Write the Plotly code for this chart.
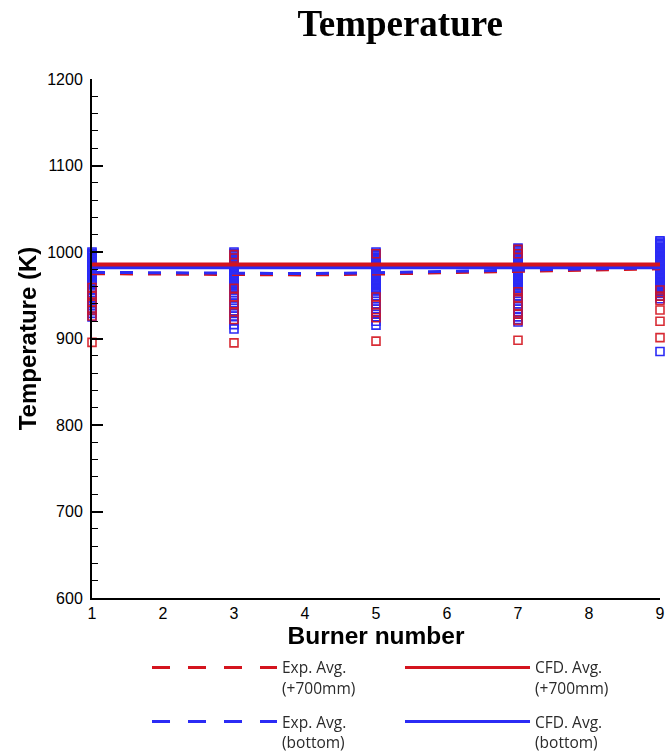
import plotly.graph_objects as go

# ---------------- data ----------------
burners = [1, 2, 3, 4, 5, 6, 7, 8, 9]
exp_avg_700 = [975.0, 974.5, 974.0, 973.5, 974.5, 976.0, 978.0, 979.5, 980.5]
exp_avg_bottom = [976.5, 976.0, 975.5, 975.0, 976.0, 977.5, 979.5, 981.0, 982.0]
cfd_avg_700 = [985.5] * 9
cfd_avg_bottom = [982.5] * 9

# measurement points per burner (x = burner, y = temperature)
pts_blue = {
    1: [1000, 998.5, 997, 995.5, 994, 992.5, 991, 989.5, 988, 986.5, 985, 983.5, 982,
        980.5, 979, 977.5, 976, 974.5, 973, 971.5, 970, 968.5, 967, 965.5, 964, 962,
        959, 956, 953, 950, 947, 944, 941, 938, 935, 932, 929, 925],
    3: [1000, 998.5, 997, 995.5, 994, 992.5, 991, 989.5, 988, 986.5, 985, 983.5, 982,
        980.5, 979, 977.5, 976, 974.5, 973, 971.5, 970, 968.5, 967, 965.5, 964, 962.5,
        961, 959.5, 958, 956, 953, 950, 947, 944, 941, 938, 935, 932, 929, 926, 921,
        916, 911],
    5: [1000, 998.5, 997, 995.5, 994, 992.5, 991, 989.5, 988, 986.5, 985, 983.5, 982,
        980.5, 979, 977.5, 976, 974.5, 973, 971.5, 970, 968.5, 967, 965.5, 964, 962.5,
        961, 959.5, 958, 956.5, 955, 952, 949, 946, 943, 940, 937, 934, 931, 928, 925,
        920, 915.5],
    7: [1004.5, 1003, 1001.5, 1000, 998.5, 997, 995.5, 994, 992.5, 991, 989.5, 988,
        986.5, 985, 983.5, 982, 980.5, 979, 977.5, 976, 974.5, 973, 971.5, 970, 968.5,
        967, 965.5, 964, 962.5, 961, 959.5, 958, 955, 952, 949, 946, 943, 940, 937, 934,
        931, 928, 925, 922, 919],
    9: [1013, 1011.5, 1010, 1008.5, 1007, 1005.5, 1004, 1002.5, 1001, 999.5, 998, 996.5,
        995, 993.5, 992, 990.5, 989, 987.5, 986, 984.5, 983, 981.5, 980, 978.5, 977,
        975.5, 974, 972.5, 971, 969.5, 968, 966.5, 965, 963.5, 962, 960.5, 959, 957.5,
        956, 954, 952, 949, 946, 885],
}
pts_red = {
    1: [959, 949, 942, 933, 926, 895.5],
    3: [997, 993, 958, 948, 939, 931, 922, 895],
    5: [998, 948, 939, 930, 924, 897],
    7: [1003, 998, 954, 947, 938, 928, 921, 898],
    9: [956, 949, 944, 933, 920, 901],
}

y_ticks = [600, 700, 800, 900, 1000, 1100, 1200]

RED = "#d4141e"
BLUE = "#2b2bf5"

fig = go.Figure()

def add_points(pts, color, op):
    xs, ys = [], []
    for b, vals in pts.items():
        xs += [b] * len(vals)
        ys += vals
    fig.add_trace(go.Scatter(
        x=xs, y=ys, mode="markers", showlegend=False, cliponaxis=False,
        marker=dict(symbol="square-open", size=8, color=color,
                    line=dict(width=1.6, color=color)),
        opacity=op))

add_points(pts_blue, BLUE, 1.0)
add_points(pts_red, RED, 0.9)

# plotted lines
fig.add_trace(go.Scatter(x=burners, y=exp_avg_700, mode="lines", showlegend=False,
                         line=dict(color=RED, width=3, dash="13px,15px")))
fig.add_trace(go.Scatter(x=burners, y=exp_avg_bottom, mode="lines", showlegend=False,
                         line=dict(color=BLUE, width=3, dash="13px,15px")))
fig.add_trace(go.Scatter(x=burners, y=cfd_avg_bottom, mode="lines", showlegend=False,
                         cliponaxis=False, line=dict(color=BLUE, width=4)))
fig.add_trace(go.Scatter(x=burners, y=cfd_avg_700, mode="lines", showlegend=False,
                         cliponaxis=False, line=dict(color=RED, width=4)))

# legend entries
leg_line_dash = "18px,18px"
fig.add_trace(go.Scatter(x=[None], y=[None], mode="lines", name="Exp. Avg.<br>(+700mm)",
                         line=dict(color=RED, width=3, dash=leg_line_dash), legend="legend"))
fig.add_trace(go.Scatter(x=[None], y=[None], mode="lines", name="CFD. Avg.<br>(+700mm)",
                         line=dict(color=RED, width=3), legend="legend"))
fig.add_trace(go.Scatter(x=[None], y=[None], mode="lines", name="Exp. Avg.<br>(bottom)",
                         line=dict(color=BLUE, width=3, dash=leg_line_dash), legend="legend2"))
fig.add_trace(go.Scatter(x=[None], y=[None], mode="lines", name="CFD. Avg.<br>(bottom)",
                         line=dict(color=BLUE, width=3), legend="legend2"))

leg_common = dict(orientation="h", xanchor="left", yanchor="top", itemwidth=125,
                  entrywidth=113, valign="top", bgcolor="rgba(0,0,0,0)",
                  xref="container", yref="container",
                  font=dict(family="Open Sans", size=15.5, color="#2a2a2a"))

fig.update_layout(
    width=667, height=752,
    margin=dict(l=92, r=7, t=79, b=154, autoexpand=False),
    paper_bgcolor="white", plot_bgcolor="white",
    title=dict(text="<b>Temperature</b>", x=0.6, xanchor="center", y=0.970, yanchor="middle",
               font=dict(family="Liberation Serif", size=37, color="black")),
    legend=dict(x=0.2204, y=0.1345, **leg_common),
    legend2=dict(x=0.2204, y=0.0625, **leg_common),
    xaxis=dict(range=[1, 9], dtick=1, tick0=1, showgrid=False, zeroline=False,
               showline=True, linecolor="black", linewidth=2, ticks="", automargin=False,
               tickfont=dict(family="Liberation Sans", size=16, color="black"),
               title=dict(text="<b>Burner number</b>", standoff=0,
                          font=dict(family="Liberation Sans", size=24.5, color="black"))),
    yaxis=dict(range=[600, 1200], tickvals=y_ticks, showgrid=False, zeroline=False,
               showline=True, linecolor="black", linewidth=2, automargin=False,
               ticks="inside", ticklen=11, tickwidth=2, tickcolor="black",
               ticklabelstandoff=4,
               minor=dict(ticks="inside", ticklen=6, tickwidth=1, tickcolor="black", dtick=20),
               tickfont=dict(family="Liberation Sans", size=16, color="black"),
               title=dict(text="<b>Temperature (K)</b>", standoff=4,
                          font=dict(family="Liberation Sans", size=24, color="black"))),
)

# remove the default 8px page margin so the 667x752 figure fills the window exactly
fig.write_html("out.html", config={"displayModeBar": False},
               post_script="document.body.style.margin='0';")
